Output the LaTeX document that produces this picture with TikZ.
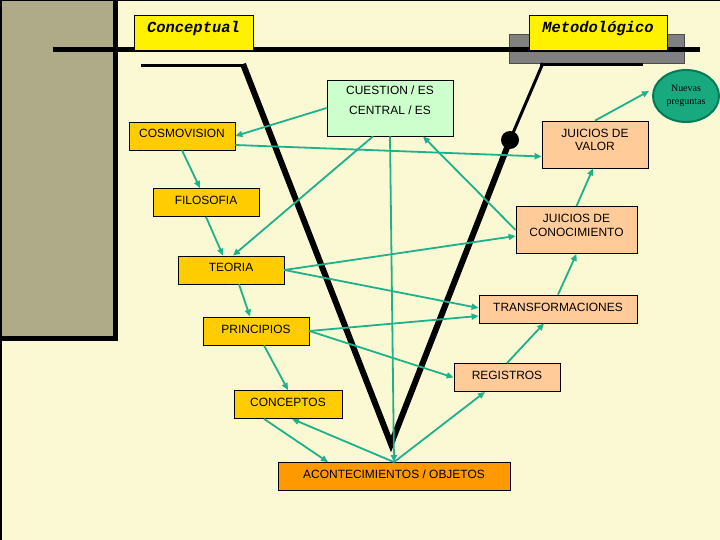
\documentclass[tikz,border=0pt]{standalone}
\usepackage{fontspec}
\setmainfont{Liberation Sans}
\newfontfamily\monofont{Liberation Mono}
\newfontfamily\seriffont{Liberation Serif}
\usetikzlibrary{shapes.geometric,arrows.meta,calc}

\definecolor{cream}{RGB}{251,248,212}
\definecolor{olive}{RGB}{175,171,136}
\definecolor{gold}{RGB}{255,204,0}
\definecolor{orangebox}{RGB}{255,153,0}
\definecolor{peach}{RGB}{255,204,153}
\definecolor{mint}{RGB}{204,255,204}
\definecolor{arrowgreen}{RGB}{30,178,140}
\definecolor{bubble}{RGB}{24,170,126}
\definecolor{bubbleline}{RGB}{0,122,88}

\tikzset{
  box/.style={draw=black, line width=0.8bp, inner xsep=0pt, inner ysep=0pt,
    text height=16bp, text depth=12bp, align=center, minimum width=106bp,
    font=\fontsize{12}{14}\selectfont},
  concept/.style={box, fill=gold},
  method/.style={box, fill=peach},
  twoline/.style={text height=30bp, text depth=17bp},
  title/.style={draw=black, line width=0.8bp, fill=yellow, inner sep=0pt,
    text height=18bp, text depth=17bp,
    font=\monofont\bfseries\itshape\fontsize{15.5}{18}\selectfont},
  link/.style={draw=arrowgreen, line width=1.8bp}
}

\begin{document}
\begin{tikzpicture}[%
    x=1bp, y=-1bp,
    >={Triangle[length=7bp,width=6bp]}
  ]
  \useasboundingbox (0,0) rectangle (720,540);
  \fill[cream] (0,0) rectangle (720,540);
  \fill[olive] (0,0) rectangle (115.5,338.5);
  \draw[line width=5bp] (115.5,0) -- (115.5,341) (0,338.5) -- (118,338.5);
  \draw[line width=1.5bp] (0.75,540) -- (0.75,0.75) -- (720,0.75);

  \fill[gray, draw=black!70, line width=0.6bp] (509,34) rectangle (684,63);
  \draw[line width=5bp] (53,49.5) -- (700,49.5);
  \draw[line width=3bp] (540,64.5) -- (643,64.5);

  \draw[line width=3bp] (141,65.5) -- (243,65.5);
  \draw[line width=6bp, miter limit=10] (243,64) -- (391,444) -- (510,140);
  \draw[line width=3bp] (510,140) -- (543,63);
  \fill (510,140) circle (9bp);

  \node[title, minimum width=119bp] (ctitle) at (193.5,32.5) {Conceptual};
  \node[title, minimum width=138bp] (mtitle) at (598,32.5) {Metodológico};

  \node[box, fill=mint, minimum width=126bp, text height=35bp, text depth=21bp]
    (cuest) at (390,108) {CUESTION / ES\\[7bp]CENTRAL / ES};
  \node[concept] (cosmo) at (182,136) {COSMOVISION};
  \node[concept] (filo) at (206,202.5) {FILOSOFIA};
  \node[concept] (teoria) at (231,270) {TEORIA};
  \node[concept] (princ) at (256,331) {PRINCIPIOS};
  \node[concept, minimum width=108bp] (concep) at (288,404.5) {CONCEPTOS};
  \node[box, fill=orangebox, minimum width=232bp] (acont) at (394,476.5)
    {ACONTECIMIENTOS / OBJETOS};
  \node[method] (regis) at (507,377.5) {REGISTROS};
  \node[method, minimum width=158bp] (transf) at (558,309) {TRANSFORMACIONES};
  \node[method, twoline, minimum width=121bp] (juicc) at (576.5,230)
    {JUICIOS DE\\CONOCIMIENTO};
  \node[method, twoline] (juicv) at (595,144.5) {JUICIOS DE\\VALOR};
  \node[ellipse, draw=bubbleline, line width=2bp, fill=bubble, inner sep=0pt,
    minimum width=66bp, minimum height=52bp, align=center,
    font=\seriffont\fontsize{10}{12.5}\selectfont] (nuevas) at (686,96)
    {Nuevas\\preguntas};

  \path[->] (cuest.west) edge [link] (cosmo.east);
  \path[->] ($(cosmo.east)+(0,9)$) edge [link] ($(juicv.west)+(0,12)$);
  \path[->] (cosmo.south) edge [link] ($(filo.north)+(-6,0)$);
  \path[->] (filo.south) edge [link] ($(teoria.north)+(-8,0)$);
  \path[->] ($(cuest.south)+(-17,0)$) edge [link] ($(teoria.north)+(2,0)$);
  \path[->] ($(teoria.south)+(8,0)$) edge [link] ($(princ.north)+(-6,0)$);
  \path[->] ($(princ.south)+(8,0)$) edge [link] (concep.north);
  \path[->] ($(concep.south)+(-24,0)$) edge [link] ($(acont.north)+(-66,0)$);
  \path[->] (acont.north) edge [link] ($(concep.south)+(4,0)$);
  \path[->] (cuest.south) edge [link] (acont.north);
  \path[->] (acont.north) edge [link] ($(regis.south)+(-22,0)$);
  \path[->] (princ.east) edge [link] (regis.west);
  \path[->] (princ.east) edge [link] ($(transf.west)+(0,7)$);
  \path[->] (teoria.east) edge [link] ($(transf.west)+(0,-1)$);
  \path[->] (teoria.east) edge [link] ($(juicc.west)+(0,6)$);
  \path[->] (regis.north) edge [link] ($(transf.south)+(-14,0)$);
  \path[->] (transf.north) edge [link] (juicc.south);
  \path[->] (juicc.north) edge [link] ($(juicv.south)+(-2,0)$);
  \path[->] (juicc.west) edge [link] ($(cuest.south)+(33,0)$);
  \path[->] (juicv.north) edge [link] ($(nuevas.west)+(-3,-5)$);
\end{tikzpicture}
\end{document}
